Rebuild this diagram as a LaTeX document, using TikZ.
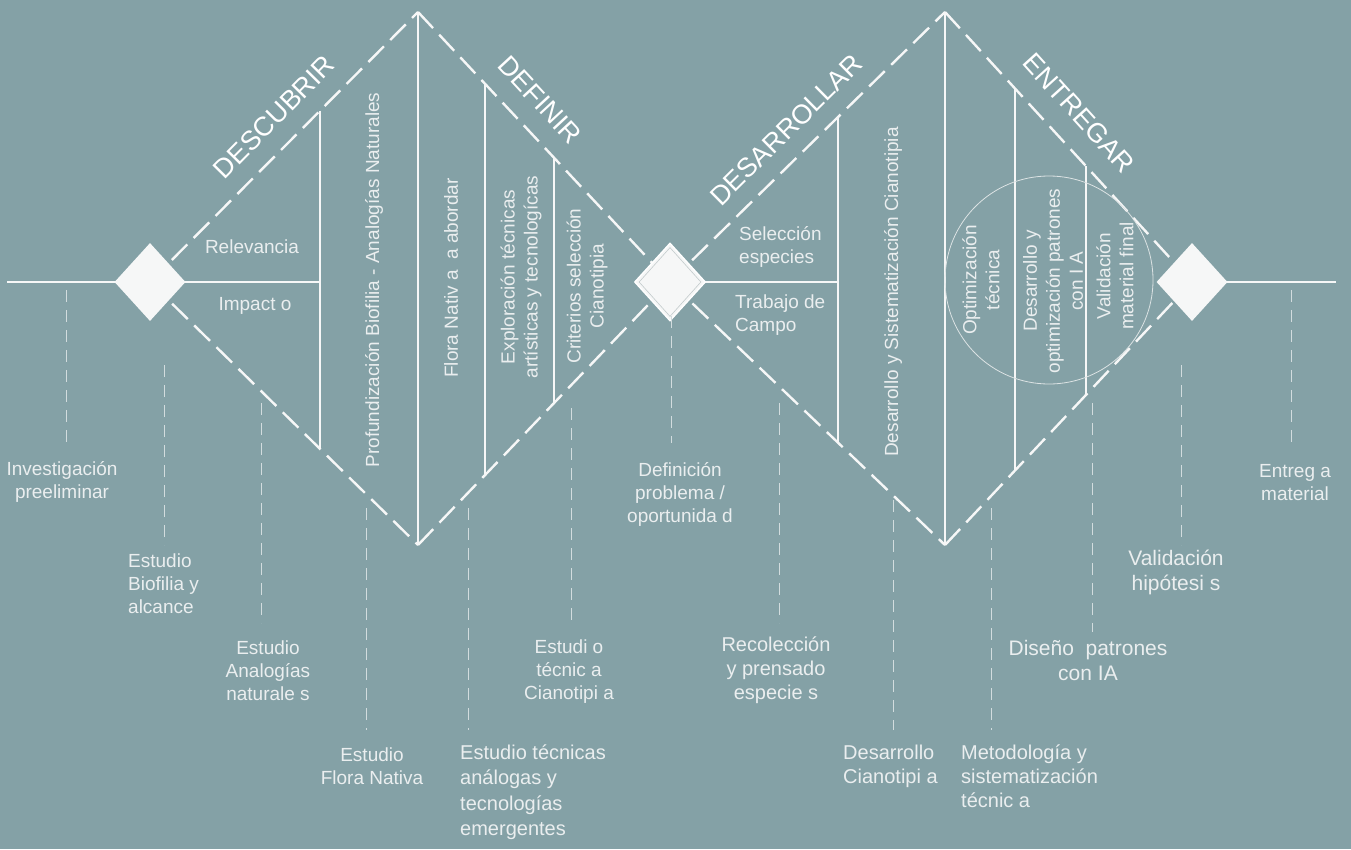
\documentclass[tikz,border=0pt]{standalone}
\usepackage{fontspec}
\setmainfont{Liberation Sans}
\usetikzlibrary{shapes.geometric}
\definecolor{bg}{HTML}{84A1A6}
\definecolor{ink}{HTML}{F6F7F7}
\definecolor{txt}{HTML}{EAEEEF}
\definecolor{guidec}{HTML}{D2DCDE}
\definecolor{ringc}{HTML}{DCE3E4}
\definecolor{innerc}{HTML}{C3CBCC}
\begin{document}
\begin{tikzpicture}[x=1pt,y=-1pt,
  edgeln/.style={draw=ink, line width=2.4pt, dash pattern=on 22pt off 9pt},
  wall/.style={draw=ink, line width=1.9pt},
  axis/.style={draw=ink, line width=1.3pt},
  mainln/.style={draw=ink, line width=2.7pt},
  guide/.style={draw=guidec, line width=1pt, dash pattern=on 12pt off 8pt},
  gem/.style={diamond, fill=ink, draw=none, minimum width=71pt, minimum height=78pt, inner sep=0pt},
  lab/.style={text=txt, align=center, inner sep=0pt, font=\fontsize{19}{23}\selectfont},
  labbig/.style={lab, font=\fontsize{20}{24}\selectfont},
  labhuge/.style={lab, font=\fontsize{21}{25}\selectfont},
  labl/.style={lab, align=left, anchor=west},
  vlab/.style={lab, rotate=90},
  phase/.style={text=white, inner sep=0pt, font=\fontsize{27}{30}\selectfont}]
\fill[bg] (0,0) rectangle (1351,849);
\useasboundingbox (0,0) rectangle (1351,849);
% key points
\coordinate (c1) at (150,282);
\coordinate (top1) at (418,12);
\coordinate (bot1) at (418,545);
\coordinate (c2) at (670,282);
\coordinate (top2) at (945,12);
\coordinate (bot2) at (945,545);
\coordinate (c3) at (1192,282);
\coordinate (lend) at (7,282);
\coordinate (rend) at (1336,282);
% diamond edges
\draw[edgeln] (c1) -- (top1);
\draw[edgeln] (c1) -- (bot1);
\draw[edgeln] (top1) -- (c2);
\draw[edgeln] (bot1) -- (c2);
\draw[edgeln] (c2) -- (top2);
\draw[edgeln] (c2) -- (bot2);
\draw[edgeln] (top2) -- (c3);
\draw[edgeln] (bot2) -- (c3);
% vertical dividers
\coordinate (v1t) at (320,110.7); \coordinate (v1b) at (320,448.8);
\coordinate (v3t) at (485,83.8);  \coordinate (v3b) at (485,475.1);
\coordinate (v4t) at (554,157.7); \coordinate (v4b) at (554,403.1);
\coordinate (v5t) at (838,117.1); \coordinate (v5b) at (838,442.7);
\coordinate (v7t) at (1015,88.5); \coordinate (v7b) at (1015,470.5);
\coordinate (v8t) at (1086,166.1); \coordinate (v8b) at (1086,394.9);
\draw[wall] (v1t) -- (v1b);
\draw[axis] (top1) -- (bot1);
\draw[wall] (v3t) -- (v3b);
\draw[wall] (v4t) -- (v4b);
\draw[wall] (v5t) -- (v5b);
\draw[axis] (top2) -- (bot2);
\draw[wall] (v7t) -- (v7b);
\draw[wall] (v8t) -- (v8b);
% circle
\node[circle, draw=ringc, line width=0.8pt, minimum size=208pt, inner sep=0pt] (ring) at (1049,280) {};
% horizontal lines
\draw[mainln] (lend) -- (c1);
\draw[wall] (c1) -- (320,282) coordinate (h1);
\draw[wall] (c2) -- (838,282) coordinate (h2);
\draw[mainln] (c3) -- (rend);
% diamonds
\node[gem] (d1) at (c1) {};
\node[gem, draw=white, line width=1.4pt] (d2) at (c2) {};
\node[diamond, draw=innerc, line width=0.6pt, minimum width=62pt, minimum height=69pt, inner sep=0pt] (d2in) at (c2) {};
\node[gem] (d3) at (c3) {};
% phase titles
\node[phase, rotate=45.4] (tDesc) at (274,117) {DESCUBRIR};
\node[phase, rotate=-47.2] (tDef) at (540,100) {DEFINIR};
\node[phase, rotate=44.7] (tDes) at (786,130) {DESARROLLAR};
\node[phase, rotate=-47.8] (tEnt) at (1079,113) {ENTREGAR};
% inner labels
\node[lab] (rel) at (252,247) {Relevancia};
\node[lab] (imp) at (255,306) {Impact o};
\node[labl] (sel) at (739,247) {Selección\\especies};
\node[labl] (tra) at (735,315) {Trabajo de\\Campo};
% rotated labels
\node[vlab] (r1) at (374,280) {Profundización Biofilia - Analogías Naturales};
\node[vlab] (r2) at (451,278) {Flora Nativ a \ a abordar};
\node[vlab] (r3) at (521,277) {Exploración técnicas\\artísticas y tecnologícas};
\node[vlab] (r4) at (587,286) {Criterios selección\\Cianotipia};
\node[vlab] (r5) at (893,292) {Desarrollo y Sistematización Cianotipia};
\node[vlab] (r6) at (981,280) {Optimización\\técnica};
\node[vlab] (r7) at (1053,281) {Desarrollo y\\optimización patrones\\con I A};
\node[vlab] (r8) at (1115,276) {Validación\\material final};
% bottom labels
\node[lab] (l1) at (62,482) {Investigación\\preeliminar};
\node[labl] (l2) at (128,584) {Estudio\\Biofilia y\\alcance};
\node[lab] (l3) at (268,671) {Estudio\\Analogías\\naturale s};
\node[lab] (l4) at (372,766) {Estudio\\Flora Nativa};
\node[labbig, align=left, anchor=west, font=\fontsize{20}{25.5}\selectfont] (l5) at (460,792) {Estudio técnicas\\análogas y\\tecnologías\\emergentes};
\node[lab] (l6) at (569,672) {Estudi o\\técnic a\\Cianotipi a};
\node[lab] (l7) at (680,494) {Definición\\problema /\\oportunida d};
\node[labbig] (l8) at (776,670) {Recolección\\y prensado\\especie s};
\node[labbig, align=left, anchor=west] (l9) at (843,766) {Desarrollo\\Cianotipi a};
\node[labbig, align=left, anchor=west] (l10) at (961,776) {Metodología y\\sistematización\\técnic a};
\node[labhuge] (l11) at (1088,660) {Diseño \ patrones\\con IA};
\node[labhuge] (l12) at (1176,572) {Validación\\hipótesi s};
\node[lab] (l13) at (1295,483) {Entreg a\\material};
% guide lines
\coordinate (g1) at (66,290);   \coordinate (g1e) at (66,443);
\coordinate (g2) at (164,365);  \coordinate (g2e) at (164,545);
\coordinate (g3) at (261,403);  \coordinate (g3e) at (261,623);
\coordinate (g4) at (366,508);  \coordinate (g4e) at (366,730);
\coordinate (g5) at (468,508);  \coordinate (g5e) at (468,730);
\coordinate (g6) at (571,408);  \coordinate (g6e) at (571,623);
\coordinate (g7) at (671,316);  \coordinate (g7e) at (671,443);
\coordinate (g8) at (779,403);  \coordinate (g8e) at (779,623);
\coordinate (g9) at (893,500);  \coordinate (g9e) at (893,730);
\coordinate (g10) at (991,508); \coordinate (g10e) at (991,730);
\coordinate (g11) at (1092,403); \coordinate (g11e) at (1092,632);
\coordinate (g12) at (1181,365); \coordinate (g12e) at (1181,545);
\coordinate (g13) at (1291,290); \coordinate (g13e) at (1291,443);
\foreach \i in {1,...,13} { \draw[guide] (g\i) -- (g\i e); }
\end{tikzpicture}
\end{document}
